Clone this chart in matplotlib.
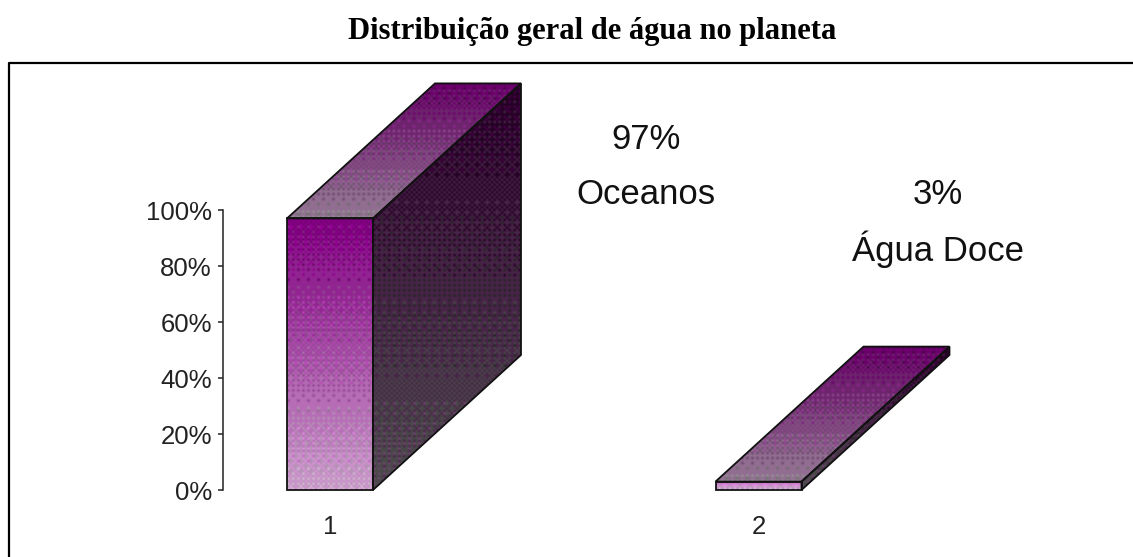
import matplotlib

matplotlib.use("Agg")
import matplotlib.pyplot as plt
import numpy as np
from matplotlib.colors import to_rgb
from matplotlib.lines import Line2D
from matplotlib.patches import Polygon

categories = ["1", "2"]
shares = [97, 3]
share_labels = ["97%", "3%"]
names = ["Oceanos", "Água Doce"]
y_ticks = [0, 20, 40, 60, 80, 100]

plt.rcParams["font.family"] = ["Liberation Sans", "DejaVu Sans"]

W, H = 1133, 557
PX_X = 428.5  # pixels per category
PX_Y = 2.8  # pixels per percent
X0, Y0 = 330, 490  # pixel position of category 1 / 0%
BAR_W = 86 / PX_X
DX, DY = 148 / PX_X, 135 / PX_Y

BAYER = np.array([[0, 8, 2, 10], [12, 4, 14, 6], [3, 11, 1, 9], [15, 7, 13, 5]]) / 16.0


def dithered(top, bottom, nx, ny, levels=7):
    # vertical gradient quantised with an ordered dither
    t = np.linspace(0, 1, ny)[:, None, None]
    rgb = np.array(to_rgb(top))[None, None, :] * (1 - t) + np.array(to_rgb(bottom))[None, None, :] * t
    rgb = np.repeat(rgb, nx, axis=1)
    yy, xx = np.indices((ny, nx))
    thresh = BAYER[yy % 4, xx % 4][:, :, None]
    return np.clip(np.floor(rgb * levels + thresh) / levels, 0, 1)


def face(ax, pts, top, bottom):
    pts = np.array(pts)
    x0, x1 = pts[:, 0].min(), pts[:, 0].max()
    y0, y1 = pts[:, 1].min(), pts[:, 1].max()
    nx = max(int((x1 - x0) * PX_X / 2.5), 2)
    ny = max(int((y1 - y0) * PX_Y / 2.5), 2)
    img = dithered(top, bottom, nx, ny)
    im = ax.imshow(img, extent=(x0, x1, y0, y1), origin="upper", aspect="auto",
                   interpolation="bilinear", zorder=2)
    patch = Polygon(pts, closed=True, facecolor="none", edgecolor="#111111", linewidth=1.3, zorder=3)
    ax.add_patch(patch)
    im.set_clip_path(patch)


fig = plt.figure(figsize=(W / 100, H / 100), dpi=100)
ax = fig.add_axes([0, 0, 1, 1])
ax.patch.set_alpha(0)

# draw the three faces of each bar
for i, v in enumerate(shares):
    xl = i + 1 - BAR_W / 2
    xr = i + 1 + BAR_W / 2
    face(ax, [(xl, v), (xr, v), (xr + DX, v + DY), (xl + DX, v + DY)], "#660066", "#927a92")
    face(ax, [(xr, 0), (xr + DX, DY), (xr + DX, v + DY), (xr, v)], "#2e002e", "#544a54")
    face(ax, [(xl, 0), (xr, 0), (xr, v), (xl, v)], "#800080" if v > 50 else "#d070d0", "#cca2cc")

ax.set_xlim(1 - X0 / PX_X, 1 + (W - X0) / PX_X)
ax.set_ylim((Y0 - H) / PX_Y, Y0 / PX_Y)

axis_x = 1 + (223 - X0) / PX_X
for side in ["top", "right", "bottom"]:
    ax.spines[side].set_visible(False)
ax.spines["left"].set_position(("data", axis_x))
ax.spines["left"].set_bounds(0, 100)
ax.spines["left"].set_linewidth(1.1)
ax.spines["left"].set_color("#222222")
ax.set_xticks([])
ax.set_yticks(y_ticks)
ax.set_yticklabels([f"{t}%" for t in y_ticks], fontsize=18.5, color="#222222")
ax.tick_params(axis="y", length=3.6, width=1.1, color="#222222", pad=4.5)

for i, c in enumerate(categories):
    ax.text(i + 1, -13.2, c, ha="center", va="center", fontsize=18.5, color="#222222")

# value labels above each bar
label_x = [1 + (646 - X0) / PX_X, 1 + (938 - X0) / PX_X]
label_y = [(Y0 - 139.5) / PX_Y, (Y0 - 194) / PX_Y]
for x, y, s, n in zip(label_x, label_y, share_labels, names):
    ax.text(x, y, s, ha="center", va="center", fontsize=25, color="#111111")
    ax.text(x, y - 55 / PX_Y, n, ha="center", va="center", fontsize=25, color="#111111")

# frame around the chart, open to the right and bottom
fig.add_artist(Line2D([8.5 / W, 8.5 / W, 1], [0, 1 - 62.5 / H, 1 - 62.5 / H], color="black", linewidth=1.6))

fig.text(592 / W, 1 - 31 / H, "Distribuição geral de água no planeta", ha="center", va="center",
         fontsize=22, fontweight="bold", family=["Liberation Serif", "DejaVu Serif"], color="black")

fig.savefig("out.png", dpi=100)
